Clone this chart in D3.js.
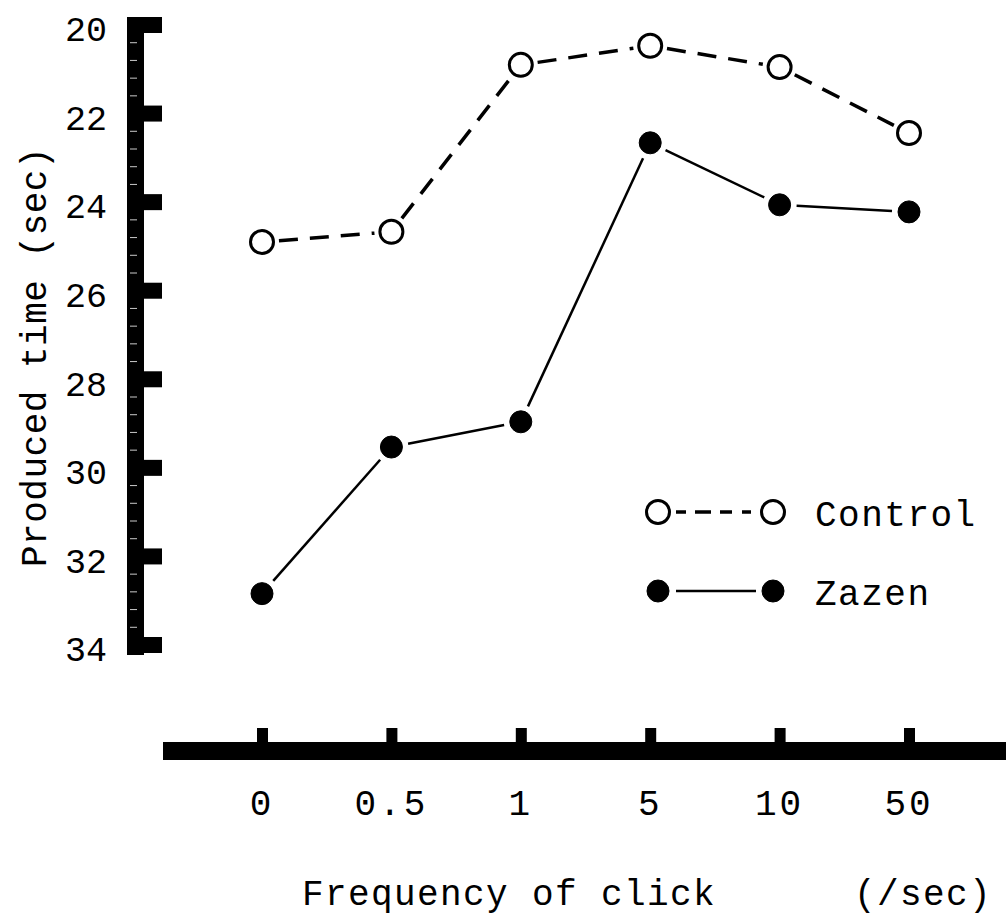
<!DOCTYPE html>
<html>
<head>
<meta charset="utf-8">
<script src="https://cdn.jsdelivr.net/npm/d3@7.9.0/dist/d3.min.js"></script>
<style>
  body { margin: 0; background: #fff; }
  svg { display: block; }
  text { font-family: "Liberation Mono", "Courier New", monospace; fill: #000; }
</style>
</head>
<body>
<svg id="chart" width="1006" height="916"></svg>
<script>
// click frequency categories (/sec)
const freqs = ['0', '0.5', '1', '5', '10', '50'];
// produced time (sec)
const control = [24.9, 24.67, 20.9, 20.47, 20.95, 22.44];
const zazen = [32.84, 29.53, 28.96, 22.66, 24.06, 24.22];
const yTicks = [20, 22, 24, 26, 28, 30, 32, 34];

const svg = d3.select('#chart');

let x = d3.scalePoint().domain(freqs).range([262, 909]);
let y = d3.scaleLinear().domain([20, 34]).range([25, 645]);

// --- y axis: thick ruler bar with stubby ticks
const yAxis = svg.append('g');
yAxis.append('rect')
    .attr('x', 127).attr('y', y(20) - 8)
    .attr('width', 17).attr('height', y(34) - y(20) + 18)
    .attr('fill', '#000');
// faint cuts on the ruler
const minor = d3.range(20.4, 34, 0.4).filter(v => Math.abs(v - Math.round(v / 2) * 2) > 0.1);
yAxis.selectAll('line.minor')
    .data(minor)
    .join('line')
    .attr('class', 'minor')
    .attr('x1', 130).attr('x2', 137)
    .attr('y1', d => y(d)).attr('y2', d => y(d))
    .attr('stroke', '#fff').attr('stroke-width', 0.8);
yAxis.selectAll('rect.tick')
    .data(yTicks)
    .join('rect')
    .attr('class', 'tick')
    .attr('x', 140).attr('y', d => y(d) - 8)
    .attr('width', 22).attr('height', 16)
    .attr('fill', '#000');
yAxis.selectAll('text')
    .data(yTicks)
    .join('text')
    .attr('x', 107).attr('y', d => y(d) + 4)
    .attr('dy', '0.35em')
    .attr('text-anchor', 'end')
    .style('font-size', '35px')
    .text(d => d);

svg.append('text')
    .attr('transform', 'translate(46,357) rotate(-90)')
    .attr('text-anchor', 'middle')
    .style('font-size', '36px')
    .style('letter-spacing', '0.5px')
    .text('Produced time (sec)');

// --- x axis: thick bar, small square ticks on top
const xAxis = svg.append('g');
xAxis.append('rect')
    .attr('x', 163).attr('y', 742)
    .attr('width', 843).attr('height', 18)
    .attr('fill', '#000');
xAxis.selectAll('rect.tick')
    .data(freqs)
    .join('rect')
    .attr('class', 'tick')
    .attr('x', d => x(d) - 5).attr('y', 728)
    .attr('width', 11).attr('height', 15)
    .attr('fill', '#000');
xAxis.selectAll('text')
    .data(freqs)
    .join('text')
    .attr('x', d => x(d)).attr('y', 815)
    .attr('text-anchor', 'middle')
    .style('font-size', '36px')
    .style('letter-spacing', '3px')
    .text(d => d);

svg.append('text')
    .attr('x', 302).attr('y', 905)
    .attr('xml:space', 'preserve')
    .style('white-space', 'pre')
    .style('font-size', '36px')
    .style('letter-spacing', '1.4px')
    .text('Frequency of click      (/sec)');

// --- series: segments stop short of the markers
function segments(vals) {
    let out = [];
    for (let i = 0; i < vals.length - 1; i++) {
        out.push([[x(freqs[i]), y(vals[i])], [x(freqs[i + 1]), y(vals[i + 1])]]);
    }
    return out;
}
function trim(seg, gap) {
    let [[x1, y1], [x2, y2]] = seg;
    let len = Math.hypot(x2 - x1, y2 - y1);
    let ux = (x2 - x1) / len, uy = (y2 - y1) / len;
    return [x1 + ux * gap, y1 + uy * gap, x2 - ux * gap, y2 - uy * gap];
}

function drawSeries(vals, dashed, filled) {
    const g = svg.append('g');
    g.selectAll('line')
        .data(segments(vals).map(s => trim(s, 17)))
        .join('line')
        .attr('x1', d => d[0]).attr('y1', d => d[1])
        .attr('x2', d => d[2]).attr('y2', d => d[3])
        .attr('stroke', '#000')
        .attr('stroke-width', dashed ? 3.5 : 2.5)
        .attr('stroke-dasharray', dashed ? '19,12' : null);
    g.selectAll('circle')
        .data(vals)
        .join('circle')
        .attr('cx', (d, i) => x(freqs[i])).attr('cy', d => y(d))
        .attr('r', filled ? 11 : 11.5)
        .attr('fill', filled ? '#000' : '#fff')
        .attr('stroke', '#000')
        .attr('stroke-width', filled ? 1 : 3);
}
drawSeries(control, true, false);
drawSeries(zazen, false, true);

// --- legend
const legend = svg.append('g');
const legendItems = [
    { label: 'Control', dashed: true, filled: false, y: 512 },
    { label: 'Zazen', dashed: false, filled: true, y: 591 }
];
legendItems.forEach(d => {
    legend.append('line')
        .attr('x1', 676).attr('x2', 756)
        .attr('y1', d.y).attr('y2', d.y)
        .attr('stroke', '#000')
        .attr('stroke-width', d.dashed ? 3.5 : 2.5)
        .attr('stroke-dasharray', d.dashed ? '10,9,16,9,12' : null);
    [658, 773].forEach(cx => {
        legend.append('circle')
            .attr('cx', cx).attr('cy', d.y)
            .attr('r', d.filled ? 11 : 11.5)
            .attr('fill', d.filled ? '#000' : '#fff')
            .attr('stroke', '#000')
            .attr('stroke-width', d.filled ? 1 : 3);
    });
    legend.append('text')
        .attr('x', 815).attr('y', d.y + 14)
        .style('font-size', '36px')
        .style('letter-spacing', '1.5px')
        .text(d.label);
});
</script>
</body>
</html>
